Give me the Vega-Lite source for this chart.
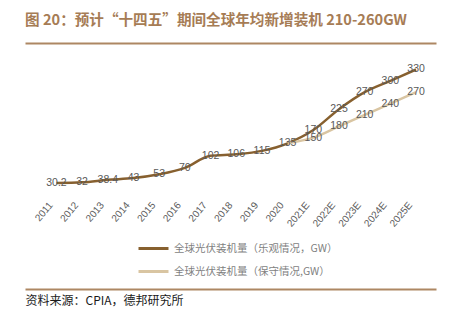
{
  "$schema": "https://vega.github.io/schema/vega-lite/v6.json",
  "width": 411,
  "height": 246,
  "autosize": {"type": "none"},
  "padding": {"left": 25, "top": 43, "right": 13, "bottom": 33},
  "background": "white",
  "title": {
    "text": "图 20：预计“十四五”期间全球年均新增装机 210-260GW",
    "anchor": "start",
    "frame": "group",
    "offset": 15,
    "fontSize": 14.6,
    "fontWeight": "bold",
    "color": "#A67C55",
    "font": "Noto Sans CJK SC"
  },
  "config": {"view": {"stroke": null}},
  "data": {
    "values": [
      {"year": "2011", "value": 30.2, "series": "全球光伏装机量（乐观情况，GW）"},
      {"year": "2012", "value": 32, "series": "全球光伏装机量（乐观情况，GW）"},
      {"year": "2013", "value": 38.4, "series": "全球光伏装机量（乐观情况，GW）"},
      {"year": "2014", "value": 43, "series": "全球光伏装机量（乐观情况，GW）"},
      {"year": "2015", "value": 53, "series": "全球光伏装机量（乐观情况，GW）"},
      {"year": "2016", "value": 70, "series": "全球光伏装机量（乐观情况，GW）"},
      {"year": "2017", "value": 102, "series": "全球光伏装机量（乐观情况，GW）"},
      {"year": "2018", "value": 106, "series": "全球光伏装机量（乐观情况，GW）"},
      {"year": "2019", "value": 115, "series": "全球光伏装机量（乐观情况，GW）"},
      {"year": "2020", "value": 135, "series": "全球光伏装机量（乐观情况，GW）"},
      {"year": "2021E", "value": 170, "series": "全球光伏装机量（乐观情况，GW）"},
      {"year": "2022E", "value": 225, "series": "全球光伏装机量（乐观情况，GW）"},
      {"year": "2023E", "value": 270, "series": "全球光伏装机量（乐观情况，GW）"},
      {"year": "2024E", "value": 300, "series": "全球光伏装机量（乐观情况，GW）"},
      {"year": "2025E", "value": 330, "series": "全球光伏装机量（乐观情况，GW）"},
      {"year": "2020", "value": 135, "series": "全球光伏装机量（保守情况,GW）"},
      {"year": "2021E", "value": 150, "series": "全球光伏装机量（保守情况,GW）"},
      {"year": "2022E", "value": 180, "series": "全球光伏装机量（保守情况,GW）"},
      {"year": "2023E", "value": 210, "series": "全球光伏装机量（保守情况,GW）"},
      {"year": "2024E", "value": 240, "series": "全球光伏装机量（保守情况,GW）"},
      {"year": "2025E", "value": 270, "series": "全球光伏装机量（保守情况,GW）"}
    ]
  },
  "layer": [
    {
      "mark": {"type": "line", "interpolate": "monotone", "strokeWidth": 2.5},
      "encoding": {
        "x": {
          "field": "year",
          "type": "ordinal",
          "sort": null,
          "scale": {"type": "point", "padding": 1.3635, "align": 0.612},
          "axis": {
            "orient": "bottom",
            "domainColor": "#AD8763",
            "domainWidth": 2,
            "ticks": false,
            "tickSize": 0,
            "labelAngle": -50,
            "labelAlign": "right",
            "labelBaseline": "middle",
            "labelPadding": -86,
            "labelOffset": -6,
            "labelFontSize": 10,
            "labelColor": "#595959",
            "labelFont": "Liberation Sans",
            "labelOverlap": false,
            "labelFlush": false,
            "labelBound": false,
            "title": "资料来源：CPIA，德邦研究所",
            "titleFont": "Noto Sans CJK SC",
            "titleFontSize": 12,
            "titleFontWeight": "normal",
            "titleColor": "#1a1a1a",
            "titleAnchor": "start",
            "titleAlign": "left",
            "titleBaseline": "middle",
            "titleX": 0,
            "titleY": 11
          }
        },
        "y": {
          "field": "value",
          "type": "quantitative",
          "scale": {"domain": [-238, 377]},
          "axis": null
        },
        "color": {
          "field": "series",
          "type": "nominal",
          "scale": {
            "domain": ["全球光伏装机量（乐观情况，GW）", "全球光伏装机量（保守情况,GW）"],
            "range": ["#87602F", "#D9C5A2"]
          },
          "legend": {
            "orient": "none",
            "legendX": 112,
            "legendY": 189,
            "title": null,
            "symbolType": "stroke",
            "symbolSize": 900,
            "symbolStrokeWidth": 3,
            "labelFontSize": 10.5,
            "labelColor": "#7f7f7f",
            "labelFont": "Noto Sans CJK SC",
            "labelOffset": 4,
            "labelLimit": 400,
            "rowPadding": -8
          }
        }
      }
    },
    {
      "transform": [
        {"filter": "datum.series == '全球光伏装机量（乐观情况，GW）' || datum.year != '2020'"}
      ],
      "mark": {"type": "text", "fontSize": 10.5, "color": "#595959", "font": "Liberation Sans", "baseline": "middle", "align": "center"},
      "encoding": {
        "x": {
          "field": "year",
          "type": "ordinal",
          "sort": null,
          "axis": {
            "orient": "top",
            "domainColor": "#AD8763",
            "domainWidth": 2,
            "ticks": false,
            "labels": false,
            "title": null
          }
        },
        "y": {"field": "value", "type": "quantitative"},
        "text": {"field": "value", "type": "quantitative", "format": "~g"}
      }
    }
  ],
  "resolve": {"axis": {"x": "independent"}}
}
